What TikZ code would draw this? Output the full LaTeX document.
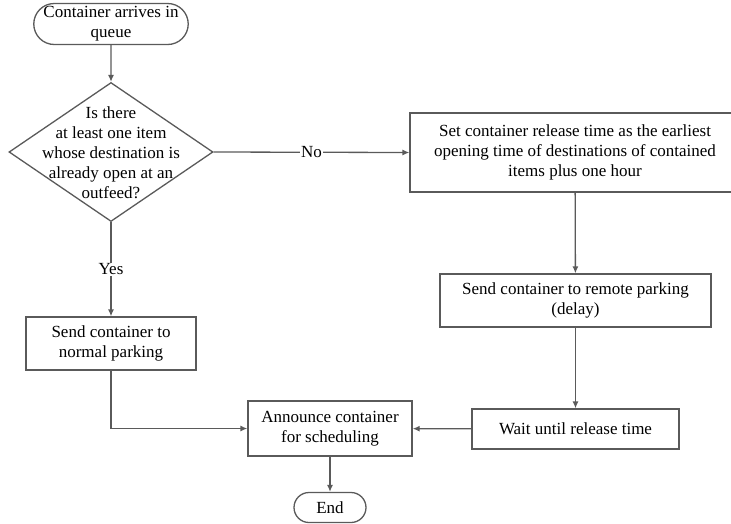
\documentclass[tikz,border=0pt]{standalone}
\usepackage{fontspec}
\setmainfont{Liberation Serif}
\usetikzlibrary{arrows,shapes}
\usetikzlibrary{arrows.meta}
\definecolor{linegray}{RGB}{90,90,90}
\tikzstyle{terminal}=[rounded rectangle,draw=linegray,line width=1.3pt,align=center,inner sep=0pt]
\tikzstyle{process}=[rectangle,draw=linegray,line width=1.3pt,align=center,inner sep=0pt]
\tikzstyle{decision}=[diamond,draw=linegray,line width=1.3pt,inner sep=0pt]
\tikzstyle{flow} = [draw=linegray,line width=1.3pt,-{Latex[length=7pt,width=6pt]}]
\tikzstyle{answer} = [fill=white,inner sep=1pt]

\begin{document}
\begin{tikzpicture}[x=1pt,y=-1pt,font=\fontsize{17}{20}\selectfont]

    \useasboundingbox (0,0) rectangle (731,523);

    \node[terminal,minimum width=151pt,minimum height=41pt] (start) at (111,24) {Container arrives in\\queue};
    \node[decision,minimum width=204pt,minimum height=139pt] (dec) at (111,152) {};
    \node[align=center,inner sep=0pt] (dectext) at (111,153) {Is there\\at least one item\\whose destination is\\already open at an\\outfeed?};
    \node[process,minimum width=330pt,minimum height=79pt] (rel) at (575,152.5) {Set container release time as the earliest\\opening time of destinations of contained\\items plus one hour};
    \node[process,minimum width=271pt,minimum height=53pt] (remote) at (575.5,300.5) {Send container to remote parking\\(delay)};
    \node[process,minimum width=207pt,minimum height=40pt] (wait) at (575.5,429) {Wait until release time};
    \node[process,minimum width=170pt,minimum height=53pt] (normal) at (111,343.5) {Send container to\\normal parking};
    \node[process,minimum width=164pt,minimum height=55pt] (announce) at (330,428.5) {Announce container\\for scheduling};
    \node[terminal,minimum width=72pt,minimum height=30pt] (finish) at (330,507.5) {End};

    % Connect the steps
    \foreach \source/ \dest in {start/dec, rel/remote, remote/wait, wait/announce, announce/finish}
        \path[flow] (\source) -- (\dest);
    \path[flow] (dec.east) -- node[answer] {No} (rel.west);
    \path[flow] (dec.south) -- node[answer] {Yes} (normal.north);
    \path[flow] (normal.south) |- (announce.west);

\end{tikzpicture}
\end{document}
